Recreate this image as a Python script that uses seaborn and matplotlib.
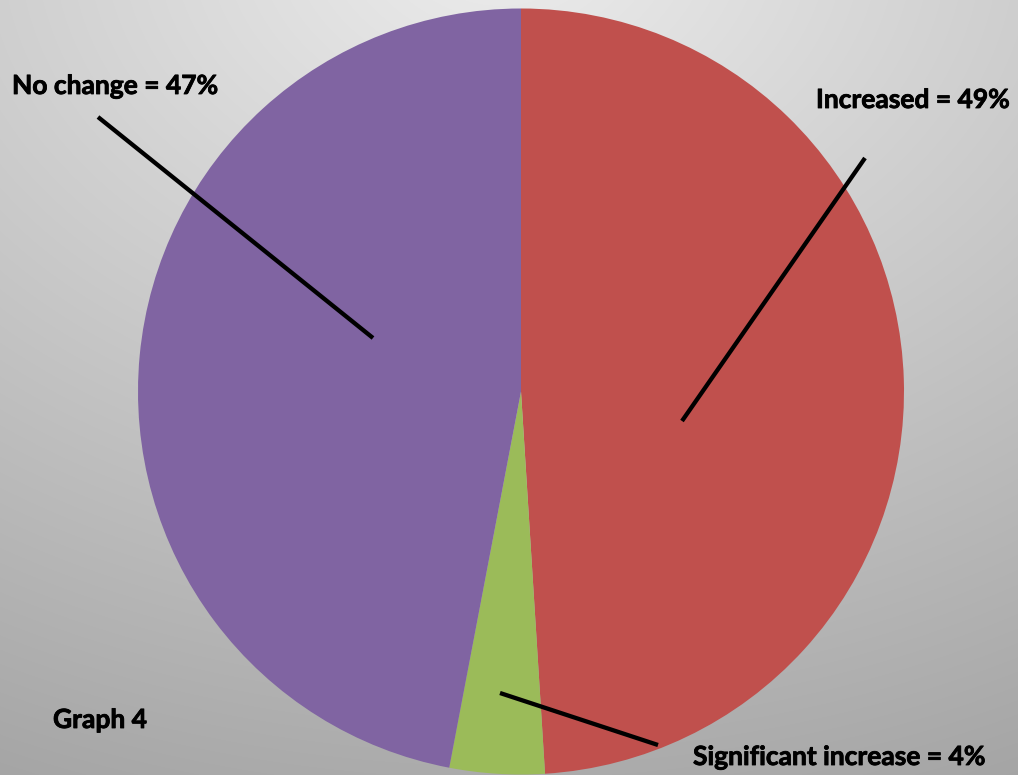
import numpy as np
import matplotlib
matplotlib.use("Agg")
import matplotlib.pyplot as plt
import matplotlib.patheffects as pe
import seaborn as sns

# Survey responses
categories = ["Increased", "Significant increase", "No change"]
shares = [49, 4, 47]

sns.set_style("white")
plt.rcParams["font.family"] = ["Lato", "DejaVu Sans"]

W, H = 1018, 775
fig = plt.figure(figsize=(W / 100, H / 100), dpi=100)
ax = fig.add_axes([0, 0, 1, 1])

# soft grey backdrop, light at the top, darker towards the bottom
yy, xx = np.mgrid[0:H, 0:W]
dist = np.sqrt(((xx - 500) / 1.35) ** 2 + (yy + 60) ** 2)
shade = 0.93 - 0.26 * np.clip(dist / 840, 0, 1.2)
ax.imshow(np.dstack([shade] * 3), extent=(0, W, H, 0), zorder=0, aspect="auto")

# y axis runs downwards, so start at -90 and go counter-clockwise in data
# space to sweep clockwise from twelve o'clock on screen
palette = sns.color_palette(["#C0504D", "#9BBB59", "#8064A2"])
ax.pie(shares, colors=palette, startangle=-90, counterclock=True,
       center=(521, 391.5), radius=383, frame=True,
       wedgeprops=dict(linewidth=0))
ax.set_xlim(0, W)
ax.set_ylim(H, 0)
ax.set_aspect("equal")
ax.axis("off")

label_text = [f"{c} = {v}%" for c, v in zip(categories, shares)]
label_pos = [(816, 100, "left"), (693, 757, "left"), (12, 86, "left")]
leaders = [((865, 158), (682, 421)), ((658, 745), (500, 693)), ((98, 117), (373, 338))]

bold = [pe.withStroke(linewidth=0.6, foreground="black")]
for txt, (x, y, ha), (p0, p1) in zip(label_text, label_pos, leaders):
    ax.text(x, y, txt, ha=ha, va="center", fontsize=19, fontweight="bold",
            color="black", zorder=5, path_effects=bold)
    ax.plot([p0[0], p1[0]], [p0[1], p1[1]], color="black", lw=3.1,
            solid_capstyle="butt", zorder=4)

ax.text(53, 720, "Graph 4", ha="left", va="center", fontsize=19,
        fontweight="bold", color="black", zorder=5, path_effects=bold)

fig.savefig("out.png", dpi=100)
